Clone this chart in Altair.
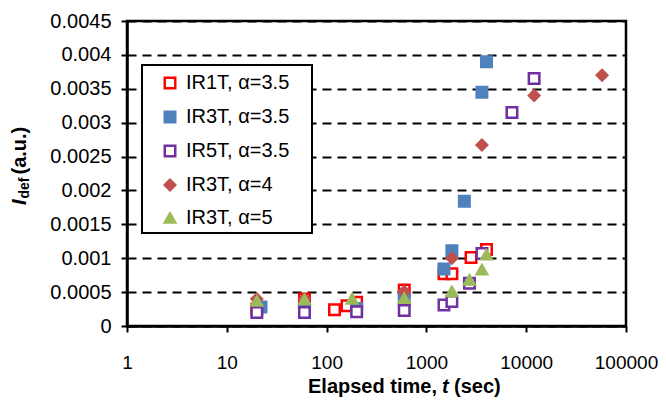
import altair as alt
import pandas as pd

# ---- data ----
ir1t_t = [20, 60, 120, 160, 200, 600, 1500, 1800, 2800, 4000]
ir1t_y = [0.00025, 0.0004, 0.00024, 0.0003, 0.00035, 0.00053, 0.00077, 0.00077, 0.00101, 0.00113]

ir3t35_t = [22, 60, 200, 600, 1500, 1800, 2400, 3600, 4000]
ir3t35_y = [0.00028, 0.00025, 0.00026, 0.00039, 0.00084, 0.00111, 0.00184, 0.00345, 0.0039]

ir5t_t = [20, 60, 200, 600, 1500, 1800, 2700, 3600, 7200, 12000]
ir5t_y = [0.0002, 0.0002, 0.00021, 0.00023, 0.00031, 0.00036, 0.00063, 0.00107, 0.00315, 0.00365]

ir3t4_t = [20, 60, 600, 1800, 3600, 12000, 57600]
ir3t4_y = [0.0004, 0.0004, 0.00051, 0.001, 0.00267, 0.0034, 0.0037]

ir3t5_t = [20, 60, 180, 600, 1800, 2700, 3600, 4000]
ir3t5_y = [0.00037, 0.00039, 0.0004, 0.00041, 0.00051, 0.00068, 0.00083, 0.00105]

series_names = ["IR1T, α=3.5", "IR3T, α=3.5", "IR5T, α=3.5", "IR3T, α=4", "IR3T, α=5"]
stroke_colors = ["#FF0000", "#4F81BD", "#7030A0", "#C0504D", "#9BBB59"]
fill_colors = ["#FFFFFF", "#4F81BD", "#FFFFFF", "#C0504D", "#9BBB59"]
shapes = ["square", "square", "square", "diamond", "triangle-up"]

x_ticks = [1, 10, 100, 1000, 10000, 100000]
y_ticks = [0, 0.0005, 0.001, 0.0015, 0.002, 0.0025, 0.003, 0.0035, 0.004, 0.0045]

rows = []
for name, ts, ys in zip(series_names,
                        [ir1t_t, ir3t35_t, ir5t_t, ir3t4_t, ir3t5_t],
                        [ir1t_y, ir3t35_y, ir5t_y, ir3t4_y, ir3t5_y]):
    for t, y in zip(ts, ys):
        rows.append({"series": name, "t": t, "y": y})
df = pd.DataFrame(rows)

FONT = "Liberation Sans"
W, H = 499, 305

points = alt.Chart(df).mark_point(size=110, strokeWidth=2.5, opacity=1, filled=False).encode(
    x=alt.X("t:Q", scale=alt.Scale(type="log", domain=[1, 100000]),
            axis=alt.Axis(values=x_ticks, format="d", title=None, grid=False,
                          labelFontSize=19, labelPadding=21, labelFlush=False,
                          tickSize=6, tickWidth=2,
                          domainWidth=2.5, domainColor="black", tickColor="black",
                          labelColor="black", labelFont=FONT)),
    y=alt.Y("y:Q", scale=alt.Scale(domain=[0, 0.0045], nice=False),
            axis=alt.Axis(values=y_ticks, format="~g", title=None, grid=True,
                          gridColor="black", gridDash=[9, 6], gridWidth=2,
                          labelFontSize=20, labelPadding=10, labelFlush=False,
                          tickSize=6, tickWidth=2,
                          domainWidth=2.5, domainColor="black", tickColor="black",
                          labelColor="black", labelFont=FONT)),
    color=alt.Color("series:N", scale=alt.Scale(domain=series_names, range=stroke_colors), title=None),
    fill=alt.Fill("series:N", scale=alt.Scale(domain=series_names, range=fill_colors), title=None),
    shape=alt.Shape("series:N", scale=alt.Scale(domain=series_names, range=shapes), title=None),
)

# legend frame (white box with black border, drawn beneath the points)
legend_box = alt.Chart(pd.DataFrame({"k": [0]})).mark_rect(
    fill="white", stroke="black", strokeWidth=2
).encode(x=alt.value(15), x2=alt.value(185), y=alt.value(44), y2=alt.value(212))

def txt(s, x, y, size=20, italic=False, angle=0, align="left"):
    return alt.Chart(pd.DataFrame({"s": [s]})).mark_text(
        font=FONT, fontSize=size, fontWeight="bold",
        fontStyle="italic" if italic else "normal",
        angle=angle, align=align, baseline="middle", color="black",
    ).encode(text="s:N", x=alt.value(x), y=alt.value(y))

# x-axis title: "Elapsed time, t (sec)"
xt0 = 181
xty = 366
xtitle = [
    txt("Elapsed time,", xt0, xty),
    txt("t", xt0 + 134, xty, italic=True),
    txt("(sec)", xt0 + 146, xty),
]
# y-axis title: "I_def (a.u.)" rotated
yx = -107
ytitle = [
    txt("I", yx, 184, italic=True, angle=270),
    txt("def", yx + 5, 177.5, size=14, angle=270),
    txt("(a.u.)", yx, 153.5, angle=270),
]

chart = alt.layer(legend_box, points, *xtitle, *ytitle).properties(
    width=W, height=H,
    autosize=alt.AutoSizeParams(type="none"),
    padding={"left": 119, "top": 13, "right": 32, "bottom": 71},
).configure_view(
    stroke="black", strokeWidth=2.5
).configure_legend(
    orient="none", legendX=15, legendY=44,
    padding=8, rowPadding=12, symbolOffset=10, labelOffset=6,
    labelFontSize=20, labelFont=FONT, labelColor="black",
    symbolSize=110, symbolStrokeWidth=2.5, labelLimit=300,
)

chart.save("out.html", embed_options={"renderer": "svg", "actions": False})
